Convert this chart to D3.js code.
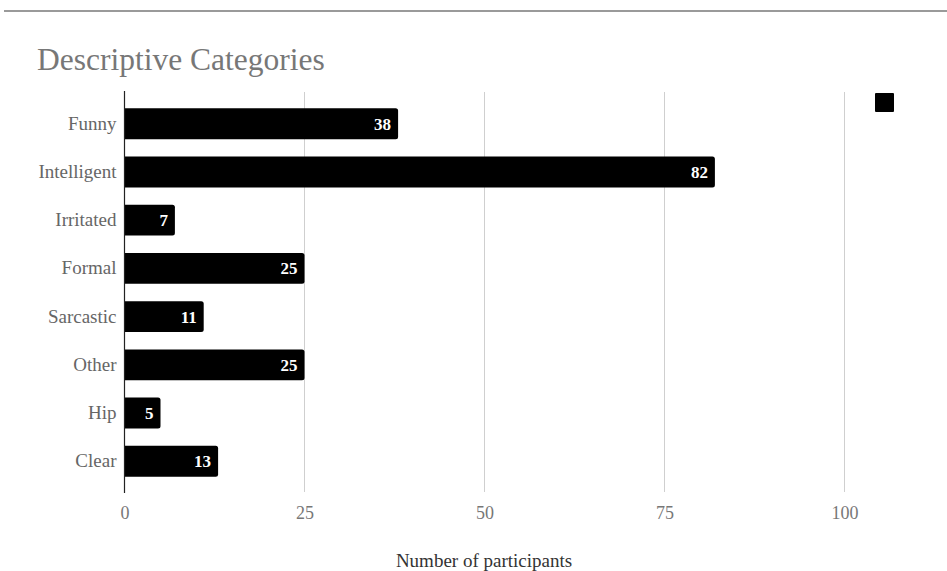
<!DOCTYPE html>
<html>
<head>
<meta charset="utf-8">
<script src="https://cdn.jsdelivr.net/npm/d3@7"></script>
<style>
  body { margin: 0; background: #fff; }
  svg { display: block; font-family: "Liberation Serif", "DejaVu Serif", serif; }
</style>
</head>
<body>
<div id="chart"></div>
<script>
// data
var categories = ["Funny", "Intelligent", "Irritated", "Formal", "Sarcastic", "Other", "Hip", "Clear"];
var counts = [38, 82, 7, 25, 11, 25, 5, 13];
var xTicks = [0, 25, 50, 75, 100];

var w = 947, h = 571;
var svg = d3.select("#chart").append("svg")
  .attr("width", w)
  .attr("height", h);

svg.append("rect").attr("width", w).attr("height", h).attr("fill", "white");

// thin rule across the top
svg.append("line")
  .attr("x1", 4).attr("x2", w)
  .attr("y1", 11).attr("y2", 11)
  .attr("stroke", "#9a9a9a")
  .attr("stroke-width", 2);

svg.append("text")
  .attr("x", 37).attr("y", 70)
  .attr("font-size", 31.5)
  .attr("fill", "#777")
  .text("Descriptive Categories");

var x = d3.scaleLinear().domain([0, 100]).range([124.5, 844.5]);
var y = d3.scaleBand().domain(categories).range([91, 494])
  .paddingInner(0.36).paddingOuter(0.36);

var plotTop = 92, plotBottom = 492;

// grid
svg.selectAll(".grid").data(xTicks.slice(1)).enter().append("line")
  .attr("class", "grid")
  .attr("x1", d => x(d)).attr("x2", d => x(d))
  .attr("y1", plotTop).attr("y2", plotBottom)
  .attr("stroke", "#cfcfcf")
  .attr("stroke-width", 1);

// x axis tick labels
var xAxis = d3.axisBottom(x).tickValues(xTicks).tickSize(0).tickPadding(0);
var gx = svg.append("g").attr("transform", "translate(0," + 506 + ")").call(xAxis);
gx.select(".domain").remove();
gx.selectAll("text")
  .attr("font-family", "Liberation Serif, serif")
  .attr("font-size", 18)
  .attr("fill", "#777")
  .attr("dy", "0.71em");

// bars, squared left, rounded right
var r = 2.5;
function barPath(d, i) {
  var x0 = x(0), x1 = x(d), y0 = y(categories[i]), bh = y.bandwidth();
  return "M" + x0 + "," + y0 +
    "H" + (x1 - r) +
    "Q" + x1 + "," + y0 + " " + x1 + "," + (y0 + r) +
    "V" + (y0 + bh - r) +
    "Q" + x1 + "," + (y0 + bh) + " " + (x1 - r) + "," + (y0 + bh) +
    "H" + x0 + "Z";
}
svg.selectAll(".bar").data(counts).enter().append("path")
  .attr("class", "bar")
  .attr("d", barPath)
  .attr("fill", "#000");

// value labels inside bars
svg.selectAll(".val").data(counts).enter().append("text")
  .attr("class", "val")
  .attr("x", d => x(d) - 7)
  .attr("y", (d, i) => y(categories[i]) + y.bandwidth() / 2)
  .attr("dy", "0.35em")
  .attr("text-anchor", "end")
  .attr("font-size", 17)
  .attr("font-weight", "bold")
  .attr("fill", "#fff")
  .text(d => d);

// y axis
var yAxis = d3.axisLeft(y).tickSize(0).tickPadding(8);
var gy = svg.append("g").attr("transform", "translate(" + x(0) + ",0)").call(yAxis);
gy.select(".domain").remove();
gy.selectAll("text")
  .attr("font-family", "Liberation Serif, serif")
  .attr("font-size", 19)
  .attr("fill", "#666");

svg.append("line")
  .attr("x1", x(0)).attr("x2", x(0))
  .attr("y1", plotTop - 1).attr("y2", plotBottom + 1)
  .attr("stroke", "#222")
  .attr("stroke-width", 1.2);

// axis title
svg.append("text")
  .attr("x", 484).attr("y", 567)
  .attr("text-anchor", "middle")
  .attr("font-size", 19)
  .attr("fill", "#333")
  .text("Number of participants");

// legend swatch (no label)
svg.append("rect")
  .attr("x", 875).attr("y", 93)
  .attr("width", 19).attr("height", 19)
  .attr("rx", 1)
  .attr("fill", "#000");
</script>
</body>
</html>
